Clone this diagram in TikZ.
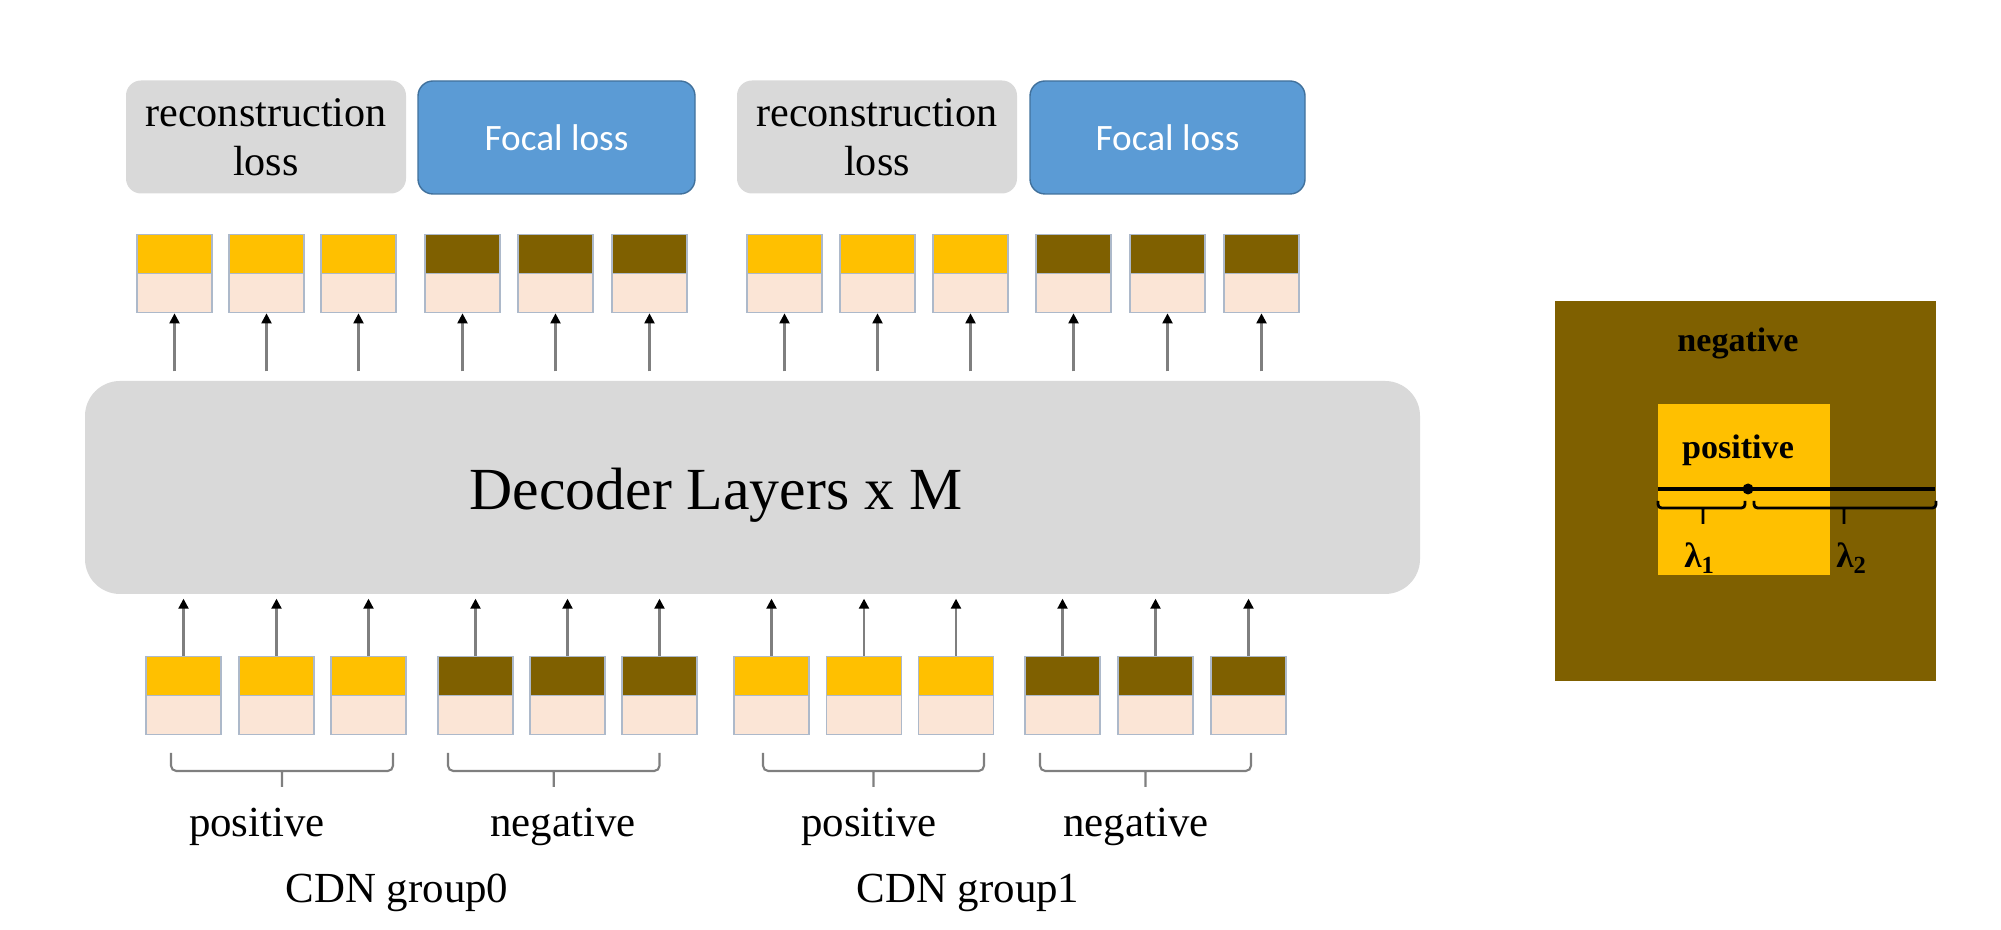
\documentclass[tikz,border=0pt]{standalone}
\usepackage{fontspec}
\setmainfont{Liberation Serif}
\newfontfamily\calibri{Carlito}
\usetikzlibrary{arrows.meta,calc}

\definecolor{posc}{HTML}{FFC000}
\definecolor{negc}{HTML}{7F6000}
\definecolor{peach}{HTML}{FBE5D6}
\definecolor{tokline}{HTML}{ADB9CA}
\definecolor{boxgray}{HTML}{D9D9D9}
\definecolor{focalblue}{HTML}{5B9BD5}
\definecolor{focalline}{HTML}{41719C}
\definecolor{linegray}{HTML}{7F7F7F}

\tikzset{
  tok/.style={draw=tokline, line width=0.5pt, minimum width=0.75cm, minimum height=0.39cm, inner sep=0pt},
  lossbox/.style={rounded corners=0.15cm, minimum height=1.13cm, inner sep=0pt, align=center},
  uparrow/.style={draw=linegray, line width=0.6pt, -{Triangle[width=1mm,length=1mm,black]}},
  bracket/.style={draw=linegray, line width=0.6pt, rounded corners=1.5pt},
  lbl/.style={anchor=base, font=\fontsize{12.2}{14}\selectfont},
  boldlbl/.style={anchor=base, font=\bfseries\fontsize{9.7}{11}\selectfont},
}

\begin{document}
\begin{tikzpicture}
        \useasboundingbox (0,0) rectangle (20.01,9.30);

        % Decoder block
        \node[fill=boxgray, rounded corners=0.35cm, minimum width=13.35cm, minimum height=2.13cm] (dec) at (7.525,4.425) {};
        \node[anchor=base, font=\fontsize{17}{20}\selectfont] (dectxt) at (7.16,4.20) {Decoder Layers x M};

        % Losses
        \node[lossbox, fill=boxgray, minimum width=2.80cm, font=\fontsize{12}{14}\selectfont] (rec0) at (2.66,7.93) {reconstruction\\loss};
        \node[lossbox, fill=focalblue, draw=focalline, minimum width=2.77cm, text=white, font=\calibri\fontsize{10.6}{13}\selectfont] (foc0) at (5.565,7.925) {Focal loss};
        \node[lossbox, fill=boxgray, minimum width=2.80cm, font=\fontsize{12}{14}\selectfont] (rec1) at (8.77,7.93) {reconstruction\\loss};
        \node[lossbox, fill=focalblue, draw=focalline, minimum width=2.75cm, text=white, font=\calibri\fontsize{10.6}{13}\selectfont] (foc1) at (11.675,7.925) {Focal loss};

        % Output queries (top row)
        \foreach \x/\c [count=\i] in {1.745/posc,2.665/posc,3.585/posc,4.625/negc,5.555/negc,6.495/negc,7.845/posc,8.775/posc,9.705/posc,10.735/negc,11.675/negc,12.615/negc}{
          \node[tok, fill=\c] (ot\i) at (\x,6.76) {};
          \node[tok, fill=peach] (ob\i) at (\x,6.37) {};
          \draw[uparrow] ($(dec.north -| ob\i.south)+(0,0.09)$) -- (ob\i.south);
        }

        % Input queries (bottom row)
        \foreach \x/\c [count=\i] in {1.835/posc,2.765/posc,3.685/posc,4.755/negc,5.675/negc,6.595/negc,7.715/posc,8.64/posc,9.56/posc,10.625/negc,11.555/negc,12.485/negc}{
          \node[tok, fill=\c] (it\i) at (\x,2.54) {};
          \node[tok, fill=peach] (ib\i) at (\x,2.15) {};
          \draw[uparrow] (it\i.north) -- ($(dec.south -| it\i.north)+(0,-0.04)$);
        }

        % Brackets under the groups
        \foreach \a/\b in {1.71/3.93, 4.48/6.595, 7.63/9.84, 10.40/12.51}
          \draw[bracket] (\a,1.77) -- (\a,1.59) -- (\b,1.59) -- (\b,1.77) ({(\a+\b)/2},1.59) -- ({(\a+\b)/2},1.43);

        \node[lbl] (pos0) at (2.57,0.93) {positive};
        \node[lbl] (neg0) at (5.63,0.93) {negative};
        \node[lbl] (pos1) at (8.69,0.93) {positive};
        \node[lbl] (neg1) at (11.36,0.93) {negative};
        \node[lbl] (grp0) at (3.97,0.27) {CDN group0};
        \node[lbl] (grp1) at (9.68,0.27) {CDN group1};

        % Noise scale illustration
        \fill[negc] (15.55,2.49) rectangle (19.36,6.29);
        \fill[posc] (16.58,3.55) rectangle (18.30,5.26);
        \node[boldlbl] (negtxt) at (17.38,5.78) {negative};
        \node[boldlbl] (postxt) at (17.38,4.71) {positive};
        \draw[line width=1.3pt] (16.58,4.41) -- (19.35,4.41);
        \fill (17.48,4.41) circle (0.055);
        \draw[line width=0.8pt, rounded corners=1pt] (16.58,4.29) -- (16.58,4.22) -- (17.45,4.22) -- (17.45,4.29) (17.03,4.22) -- (17.03,4.06);
        \draw[line width=0.8pt, rounded corners=1pt] (17.54,4.29) -- (17.54,4.22) -- (19.36,4.22) -- (19.36,4.29) (18.44,4.22) -- (18.44,4.06);
        \node[anchor=base, font=\bfseries\fontsize{10}{12}\selectfont] (lam1) at (17.00,3.62) {λ\textsubscript{1}};
        \node[anchor=base, font=\bfseries\fontsize{10}{12}\selectfont] (lam2) at (18.52,3.62) {λ\textsubscript{2}};
    \end{tikzpicture}
\end{document}
